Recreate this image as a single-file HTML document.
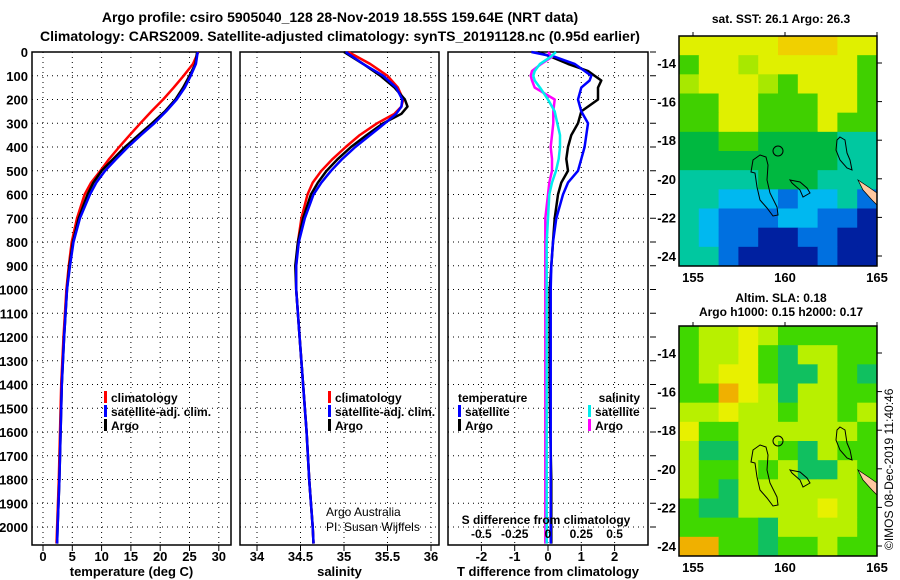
<!DOCTYPE html>
<html><head><meta charset="utf-8"><style>
body{margin:0;background:#fff}
svg{display:block;font-family:"Liberation Sans",sans-serif;font-weight:bold}
</style></head><body>
<svg id="c" width="900" height="580" viewBox="0 0 900 580" xmlns="http://www.w3.org/2000/svg">
<text x="340" y="22" font-size="14" text-anchor="middle">Argo profile: csiro 5905040_128 28-Nov-2019 18.55S 159.64E (NRT data)</text>
<text x="340" y="41" font-size="14" text-anchor="middle">Climatology: CARS2009. Satellite-adjusted climatology: synTS_20191128.nc (0.95d earlier)</text>
<g id="plots"></g>
<text transform="translate(893,550) rotate(-90)" font-size="12" font-weight="normal">©IMOS 08-Dec-2019 11:40:46</text>
</svg>
<script>
// ---- data ----
const depthLabels=[0,100,200,300,400,500,600,700,800,900,1000,1100,1200,1300,1400,1500,1600,1700,1800,1900,2000];
const tTicks=[0,5,10,15,20,25,30];
const sTicks=[34,34.5,35,35.5,36];
const sTickLabels=["34","34.5","35","35.5","36"];
const dTTicks=[-2,-1,0,1,2];
const dSTickLabels=["-0.5","-0.25","0","0.25","0.5"];
const dSTicks=[-0.5,-0.25,0,0.25,0.5];

const zT=[0,50,100,150,200,250,300,350,400,450,500,550,600,700,800,900,1000,1200,1400,1600,1800,2000,2070];
const tArgo=[26.3,26,25,23.9,22.6,20.8,18.6,16.3,14,12,10,8.6,7.6,6.1,5.1,4.5,4.1,3.6,3.2,3.0,2.8,2.5,2.4];
const tClim=[26.5,25.6,24,22.3,20.5,18.5,16.6,14.8,13,11.3,9.8,8.2,7.1,5.8,4.9,4.4,4.0,3.5,3.1,2.9,2.7,2.4,2.3];
const tSat=[26.4,26.1,25.2,24.2,22.8,21,19,16.7,14.5,12.5,10.6,9.1,8,6.3,5.2,4.6,4.1,3.6,3.2,3.0,2.8,2.5,2.4];

const zS=[0,50,100,150,200,230,260,300,350,400,450,500,550,600,700,800,900,1000,1200,1400,1600,1800,2000,2070];
const sArgo=[35.0,35.22,35.42,35.58,35.7,35.73,35.66,35.45,35.26,35.08,34.93,34.8,34.7,34.62,34.53,34.47,34.44,34.45,34.49,34.53,34.57,34.6,34.64,34.65];
const sClim=[35.05,35.3,35.5,35.62,35.68,35.66,35.58,35.38,35.18,35.02,34.87,34.74,34.64,34.58,34.51,34.47,34.45,34.45,34.49,34.53,34.57,34.6,34.64,34.65];
const sSat=[35.02,35.22,35.45,35.6,35.67,35.66,35.6,35.47,35.3,35.13,34.98,34.85,34.74,34.65,34.55,34.48,34.45,34.45,34.49,34.53,34.57,34.6,34.64,34.65];

const zD=[0,20,50,80,100,120,150,200,250,300,350,400,450,500,550,600,700,800,900,1000,1200,1400,1600,1800,2000,2070];
const dTArgo=[-0.3,0.1,0.6,1.2,1.4,1.6,1.5,1.5,1.0,0.9,0.7,0.6,0.55,0.6,0.4,0.3,0.2,0.15,0.1,0.05,0.05,0.05,0.07,0.1,0.1,0.1];
const dTSat=[-0.5,0.2,0.8,1.1,1.3,1.25,1.0,0.9,1.0,1.2,1.15,1.1,1.0,0.9,0.6,0.45,0.25,0.15,0.1,0.08,0.08,0.08,0.08,0.08,0.08,0.08];
const dSArgo=[0.0,0.03,-0.05,-0.12,-0.13,-0.12,-0.1,0.05,0.04,0.04,0.03,0.02,0.03,0.03,0.01,0.0,-0.02,-0.02,-0.02,-0.02,-0.02,-0.02,-0.02,-0.02,-0.02,-0.02];
const dSSat=[0.06,0.02,-0.06,-0.1,-0.11,-0.1,-0.06,0.0,0.05,0.07,0.09,0.09,0.08,0.06,0.03,0.01,0.0,-0.01,-0.01,-0.01,-0.01,-0.01,-0.01,-0.01,-0.01,-0.01];

const sstRows=["YYYYYOOOYY","GYYgYYYYYG","gYYYgGYYYG","GGYYGGGYYG","GGYYGGGYGG","DDGGDDDDTT","DDDDDDDDTT","TTTTDDDTTT","TTCCCBCCTB","TCBBBCCBBN","TCBBNNBBNN","TTBNNNNBNN"];
const slaRows=["GLLYLGGGGG","GLLYGDLLGG","GLYYGDDLGD","GGOYLDLLGG","LLYLLGLLGL","YGGLLLLLLG","LDDLLGDLGG","LGGLGLDDLG","LGDLLLLLLG","GDDLLLLYLG","GGGGDLLLLG","OOGGDGGLGG"];
const latTicks=[14,16,18,20,22,24];
const lonTicks=[155,160,165];

// ---- helpers ----
const NS="http://www.w3.org/2000/svg";
const root=document.getElementById('plots');
function mk(tag,attrs,parent){const e=document.createElementNS(NS,tag);for(const k in attrs)e.setAttribute(k,attrs[k]);(parent||root).appendChild(e);return e;}
const yTop=52, yBot=545;
const yD=d=>yTop+d*0.2375;
function txt(x,y,s,size,anchor,name,weight){const t=mk('text',{x:x,y:y,'font-size':size,'text-anchor':anchor||'middle'});if(weight)t.setAttribute('font-weight',weight);t.textContent=s;


return t;}

function panel(x0,x1,xs,xTickVals,xTickLabels,title,name){
 const g=mk('g',{});
 
 
 depthLabels.forEach(d=>{const l=mk('line',{x1:x0,x2:x1,y1:yD(d),y2:yD(d),stroke:'#000','stroke-dasharray':'1,4','stroke-width':1},g);
  
  });
 xTickVals.forEach((v,i)=>{const l=mk('line',{x1:xs(v),x2:xs(v),y1:yTop,y2:yBot,stroke:'#000','stroke-dasharray':'1,4','stroke-width':1},g);
  
  
  if(xTickLabels){const k=mk('line',{x1:xs(v),x2:xs(v),y1:yBot,y2:yBot+6,stroke:'#000'},g);
   
   
   txt(xs(v),yBot+16,xTickLabels[i],13,'middle','x-tick-label');}});
 const r=mk('rect',{x:x0,y:yTop,width:x1-x0,height:yBot-yTop,fill:'none',stroke:'#000','stroke-width':1.5},g);
 
 
 txt((x0+x1)/2,yBot+31,title,13,'middle','x-axis-title');
 return g;
}
function line(g,xs,zs,vals,color,w,name){
 const pts=zs.map((z,i)=>xs(vals[i]).toFixed(1)+','+yD(z).toFixed(1)).join(' ');
 const p=mk('polyline',{points:pts,fill:'none',stroke:color,'stroke-width':w||2.5,'stroke-linejoin':'round'},g);
 
 
}
function legendEntry(x,y,color,label,name){
 const b=mk('rect',{x:x,y:y-11,width:3,height:12,fill:color});
 
 
 txt(x+7,y,label,12,'start',name);
}

depthLabels.forEach(d=>txt(28,yD(d)+5,String(d),13,'end','y-tick-label'));

const xT=v=>43+v*5.86;
const gT=panel(32,231,xT,tTicks,tTicks.map(String),'temperature (deg C)','temperature-panel');
line(gT,xT,zT,tClim,'#f00',2.5,'temp-climatology-line');
line(gT,xT,zT,tArgo,'#000',2.5,'temp-argo-line');
line(gT,xT,zT,tSat,'#00f',2.5,'temp-satellite-line');
legendEntry(104,402,'#f00','climatology','legend-climatology');
legendEntry(104,416,'#00f','satellite-adj. clim.','legend-satellite-adj');
legendEntry(104,430,'#000','Argo','legend-argo');

const xS=v=>257+(v-34)*87;
const gS=panel(240,439,xS,sTicks,sTickLabels,'salinity','salinity-panel');
line(gS,xS,zS,sClim,'#f00',2.5,'sal-climatology-line');
line(gS,xS,zS,sArgo,'#000',2.5,'sal-argo-line');
line(gS,xS,zS,sSat,'#00f',2.5,'sal-satellite-line');
legendEntry(328,402,'#f00','climatology','legend-climatology-2');
legendEntry(328,416,'#00f','satellite-adj. clim.','legend-satellite-adj-2');
legendEntry(328,430,'#000','Argo','legend-argo-2');
txt(326,516,'Argo Australia',12,'start','credit-argo-australia','normal');
txt(326,531,'PI: Susan Wijffels',12,'start','credit-pi','normal');

const xDT=v=>548+v*33.3;
const xDS=v=>548+v*133.2;
const gD=panel(448,648,xDT,dTTicks,dTTicks.map(String),'T difference from climatology','difference-panel');
line(gD,xDT,zD,dTArgo,'#000',2.5,'dT-argo-line');
line(gD,xDT,zD,dTSat,'#00f',2.5,'dT-satellite-line');
line(gD,xDS,zD,dSArgo,'#f0f',2.5,'dS-argo-line');
line(gD,xDS,zD,dSSat,'#0ee',2.5,'dS-satellite-line');
txt(458,402,'temperature',12,'start','legend-temperature-heading');
legendEntry(458,416,'#00f','satellite','legend-t-satellite');
legendEntry(458,430,'#000','Argo','legend-t-argo');
txt(640,402,'salinity',12,'end','legend-salinity-heading');
legendEntry(588,416,'#0ee','satellite','legend-s-satellite');
legendEntry(588,430,'#f0f','Argo','legend-s-argo');
txt(546,524,'S difference from climatology',12,'middle','s-diff-axis-title');
dSTicks.forEach((v,i)=>txt(xDS(v),538,dSTickLabels[i],12,'middle','s-diff-tick-label'));
depthLabels.forEach(d=>{const k=mk('line',{x1:650,x2:656,y1:yD(d),y2:yD(d),stroke:'#000'});
 
 });

const colsSST={Y:'#e0f000',O:'#f0d000',g:'#a8e800',G:'#40d000',D:'#00b840',T:'#00c8a0',C:'#00b8f0',B:'#0070e0',N:'#0020a0'};
const colsSLA={L:'#b8f000',Y:'#e8f000',O:'#f0b000',G:'#40d800',D:'#10c060'};
function map(yOff,rows,cols,title1,title2,name){
 const x0=679,x1=877,y0=36+yOff,y1=266+yOff;
 const lonX=lon=>693+(lon-155)*18.4;
 const latY=lat=>63+yOff+(lat-14)*19.3;
 const g=mk('g',{});
 
 
 const nr=rows.length,nc=rows[0].length,cw=(x1-x0)/nc,ch=(y1-y0)/nr;
 rows.forEach((row,r)=>[...row].forEach((c,k)=>{const e=mk('rect',{x:x0+k*cw,y:y0+r*ch,width:cw+0.5,height:ch+0.5,fill:cols[c]},g);
  
  }));
 const shapes=[[[760,155],[766,157],[768,165],[767,180],[770,193],[777,207],[778,215],[773,216],[767,208],[760,200],[757,187],[755,173],[751,172],[753,160]],
  [[840,137],[845,140],[847,153],[850,160],[852,170],[847,168],[840,160],[836,150],[837,140]],
  [[790,180],[800,182],[807,188],[810,193],[803,197],[800,190],[792,183]]];
 shapes.forEach(s=>{const p=mk('polygon',{points:s.map(q=>q[0]+','+(q[1]+yOff)).join(' '),fill:'none',stroke:'#000','stroke-width':1},g);
  
  });
 const land=mk('polygon',{points:[[858,180],[870,188],[877,193],[877,205],[872,200],[863,190]].map(q=>q[0]+','+(q[1]+yOff)).join(' '),fill:'#ffc8a0',stroke:'#000','stroke-width':0.7},g);
 
 
 const fl=mk('circle',{cx:778,cy:151+yOff,r:5,fill:'none',stroke:'#000','stroke-width':1},g);
 
 
 const fr=mk('rect',{x:x0,y:y0,width:x1-x0,height:y1-y0,fill:'none',stroke:'#000','stroke-width':1.5},g);
 
 
 latTicks.forEach(l=>{txt(676,latY(l)+5,'-'+l,13,'end','lat-label');
  const k=mk('line',{x1:x1,x2:x1+5,y1:latY(l),y2:latY(l),stroke:'#000'},g);
  
  });
 lonTicks.forEach(l=>{txt(lonX(l),y1+16,String(l),13,'middle','lon-label');
  const k=mk('line',{x1:lonX(l),x2:lonX(l),y1:y0-4,y2:y0,stroke:'#000'},g);
  
  });
 if(title2){txt(781,y0-24,title1,12,'middle','map-title');txt(781,y0-10,title2,12,'middle','map-subtitle');}
 else txt(781,y0-13,title1,12,'middle','map-title');
}
map(0,sstRows,colsSST,'sat. SST: 26.1 Argo: 26.3',null,'sst-map');
map(290,slaRows,colsSLA,'Altim. SLA: 0.18','Argo h1000: 0.15 h2000: 0.17','sla-map');
</script>
</body></html>
